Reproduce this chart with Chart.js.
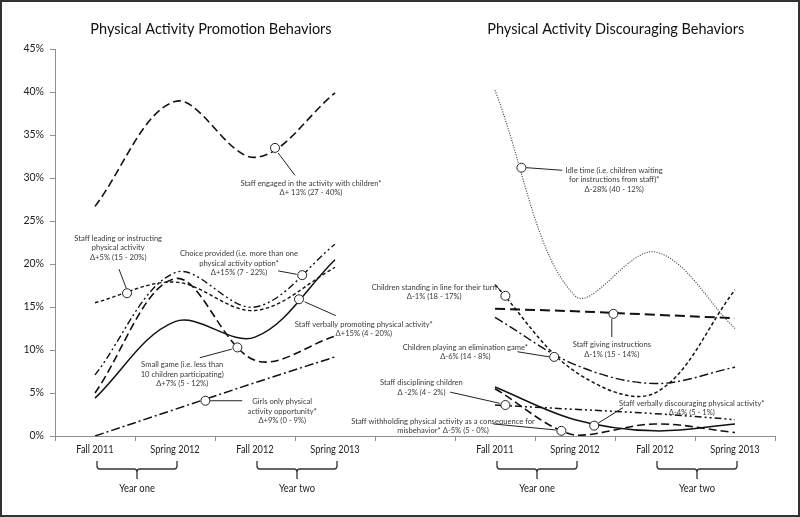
<!DOCTYPE html>
<html>
<head>
<meta charset="utf-8">
<title>Physical activity behaviors</title>
<script src="https://cdn.jsdelivr.net/npm/chart.js@4.4.1/dist/chart.umd.min.js"></script>
<style>
  html, body { margin: 0; padding: 0; background: #fff; }
  #wrap { width: 800px; height: 517px; }
</style>
</head>
<body>
<div id="wrap"><canvas id="chart" width="800" height="517"></canvas></div>
<script>
// Observation terms, repeated for both panels with one empty slot between them
const terms = ["Fall 2011", "Spring 2012", "Fall 2012", "Spring 2013"];
const categories = [...terms, "", ...terms];
const yTicks = [0, 5, 10, 15, 20, 25, 30, 35, 40, 45];
const panelTitles = ["Physical Activity Promotion Behaviors", "Physical Activity Discouraging Behaviors"];
const yearLabels = ["Year one", "Year two", "Year one", "Year two"];

// Promotion behaviors (% of observed time)
const staffEngaged = [26.7, 38.9, 32.4, 39.9];
const staffLeading = [15.5, 17.9, 14.6, 19.6];
const choiceProvided = [7.1, 19.0, 15.0, 22.3];
const smallGame = [5.0, 18.3, 8.8, 11.6];
const verballyPromoting = [4.4, 13.3, 11.5, 20.5];
const girlsOnly = [0, 3.1, 6.2, 9.2];

// Discouraging behaviors (% of observed time)
const idleTime = [40.2, 16.3, 21.4, 12.5];
const standingInLine = [17.6, 7.5, 5.0, 17.0];
const givingInstructions = [14.8, 14.5, 14.1, 13.7];
const eliminationGame = [13.8, 8.3, 6.1, 8.0];
const disciplining = [3.6, 3.1, 2.6, 1.9];
const verballyDiscouraging = [5.7, 1.9, 0.6, 1.4];
const withholding = [5.5, 0.1, 1.4, 0.4];

const FONT = "Lato";
const INK = "#3a3a3a";
const AXIS = "#8f8f8f";

const LONG = [8, 4];
const SHORT = [3.5, 2.5];
const DASH_DOT = [9, 3, 2, 3];
const DASH_DOT_DOT = [7, 3, 2, 3, 2, 3];
const DOTTED = [1, 1.5];

const series = [
  { values: staffEngaged, side: "left", dash: LONG, width: 1.6 },
  { values: staffLeading, side: "left", dash: SHORT, width: 1.4 },
  { values: choiceProvided, side: "left", dash: DASH_DOT_DOT, width: 1.4 },
  { values: smallGame, side: "left", dash: LONG, width: 1.6 },
  { values: verballyPromoting, side: "left", dash: [], width: 1.5 },
  { values: girlsOnly, side: "left", dash: DASH_DOT, width: 1.5 },
  { values: idleTime, side: "right", dash: DOTTED, width: 1.1, color: "#333" },
  { values: standingInLine, side: "right", dash: SHORT, width: 1.5 },
  { values: givingInstructions, side: "right", dash: [10, 5], width: 2 },
  { values: eliminationGame, side: "right", dash: DASH_DOT, width: 1.4 },
  { values: disciplining, side: "right", dash: DASH_DOT_DOT, width: 1.5 },
  { values: verballyDiscouraging, side: "right", dash: [], width: 1.5 },
  { values: withholding, side: "right", dash: LONG, width: 1.6 },
];

// Callouts: circle on the curve, leader line, text block (category index, percent)
const notes = [
  { circle: [2.25, 33.5], leader: [[2.29, 32.9], [2.5, 30.3]], at: [2.7, 29.4],
    lines: ["Staff engaged in the activity with children*", "Δ+ 13% (27 - 40%)"] },
  { circle: [0.4, 16.6], leader: [[0.3, 19.4], [0.39, 17.2]], at: [0.29, 23.0],
    lines: ["Staff leading or instructing", "physical activity", "Δ+5% (15 - 20%)"] },
  { circle: [2.59, 18.7], leader: [[2.29, 19.2], [2.52, 18.8]], at: [1.8, 21.2],
    lines: ["Choice provided (i.e. more than one", "physical activity option*", "Δ+15% (7 - 22%)"] },
  { circle: [2.55, 15.9], leader: [[2.62, 15.6], [3.01, 14.0]], at: [3.36, 13.0],
    lines: ["Staff verbally promoting physical activity*", "Δ+15% (4 - 20%)"] },
  { circle: [1.78, 10.3], leader: [[1.31, 9.1], [1.71, 10.1]], at: [1.09, 8.3],
    lines: ["Small game (i.e. less than", "10 children participating)", "Δ+7% (5 - 12%)"] },
  { circle: [1.38, 4.1], leader: [[1.44, 4.1], [1.84, 4.1]], at: [2.34, 4.0],
    lines: ["Girls only physical", "activity opportunity*", "Δ+9% (0 - 9%)"] },
  { circle: [5.33, 31.2], leader: [[5.39, 31.2], [5.84, 30.9]], at: [6.49, 30.9],
    lines: ["Idle time (i.e. children waiting", "for instructions from staff)*", "Δ-28% (40 - 12%)"] },
  { circle: [5.13, 16.3], leader: [[5.0, 17.6], [5.1, 16.6]], at: [4.24, 17.3],
    lines: ["Children standing in line for their turn", "Δ-1% (18 - 17%)"] },
  { circle: [6.48, 14.2], leader: [[6.46, 13.6], [6.46, 11.5]], at: [6.46, 10.6],
    lines: ["Staff giving instructions", "Δ-1% (15 - 14%)"] },
  { circle: [5.74, 9.2], leader: [[5.28, 9.8], [5.68, 9.2]], at: [4.63, 10.3],
    lines: ["Children playing an elimination game*", "Δ-6% (14 - 8%)"] },
  { circle: [5.13, 3.6], leader: [[4.44, 5.1], [5.06, 3.8]], at: [4.08, 6.2],
    lines: ["Staff disciplining children", "Δ -2% (4 - 2%)"] },
  { circle: [5.83, 0.6], leader: [[4.98, 1.4], [5.76, 0.7]], at: [4.35, 1.7],
    lines: ["Staff withholding physical activity as a consequence for", "misbehavior* Δ-5% (5 - 0%)"] },
  { circle: [6.24, 1.2], leader: [[6.29, 1.5], [6.6, 3.3]], at: [7.46, 3.8],
    lines: ["Staff verbally discouraging physical activity*", "Δ-4% (5 - 1%)"] },
];

const pad = [null, null, null, null, null];

function drawText(ctx, str, x, y, size, k = 1, align = "center", color = INK) {
  ctx.save();
  ctx.font = `${size}px ${FONT}`;
  ctx.fillStyle = color;
  ctx.textAlign = align;
  ctx.textBaseline = "middle";
  ctx.translate(x, y);
  ctx.scale(k, 1);
  ctx.fillText(str, 0, 0);
  ctx.restore();
}

function drawBracket(ctx, x1, x2, top) {
  const mid = top + 8;
  const xc = (x1 + x2) / 2;
  ctx.beginPath();
  ctx.moveTo(x1, top);
  ctx.lineTo(x1, mid - 3);
  ctx.quadraticCurveTo(x1, mid, x1 + 3, mid);
  ctx.lineTo(xc - 3, mid);
  ctx.quadraticCurveTo(xc, mid, xc, mid + 3);
  ctx.lineTo(xc, mid + 10);
  ctx.moveTo(xc, mid + 3);
  ctx.quadraticCurveTo(xc, mid, xc + 3, mid);
  ctx.lineTo(x2 - 3, mid);
  ctx.quadraticCurveTo(x2, mid, x2, mid - 3);
  ctx.lineTo(x2, top);
  ctx.stroke();
}

const overlay = {
  id: "overlay",
  afterDraw(chart) {
    const { ctx, chartArea } = chart;
    const x = chart.scales.x;
    const y = chart.scales.y;
    const px = (i) => x.getPixelForValue(i);
    const py = (v) => y.getPixelForValue(v);

    // frame round the figure
    ctx.save();
    ctx.strokeStyle = "#333";
    ctx.lineWidth = 2;
    ctx.strokeRect(1, 1, chart.width - 2, chart.height - 2);
    ctx.restore();

    // panel titles
    drawText(ctx, panelTitles[0], px(1.45), 29, 14.5, 1, "center", "#111");
    drawText(ctx, panelTitles[1], px(6.51), 29, 14.5, 1, "center", "#111");

    // y tick labels
    yTicks.forEach((v) => drawText(ctx, `${v}%`, chartArea.left - 11, py(v), 10.5, 1, "right", "#222"));

    // x tick labels
    categories.forEach((c, i) => {
      if (c) drawText(ctx, c, px(i), chartArea.bottom + 14, 10.5, 0.88, "center", "#222");
    });

    // year brackets
    ctx.save();
    ctx.strokeStyle = "#333";
    ctx.lineWidth = 1.3;
    [[0, 1], [2, 3], [5, 6], [7, 8]].forEach(([a, b], k) => {
      const x1 = px(a) + 2;
      const x2 = px(b) + 2;
      drawBracket(ctx, x1, x2, chartArea.bottom + 25);
      drawText(ctx, yearLabels[k], (x1 + x2) / 2, chartArea.bottom + 52, 11, 0.85, "center", "#222");
    });
    ctx.restore();

    // callouts
    ctx.save();
    ctx.strokeStyle = "#222";
    ctx.lineWidth = 1;
    notes.forEach((n) => {
      ctx.beginPath();
      ctx.moveTo(px(n.leader[0][0]), py(n.leader[0][1]));
      ctx.lineTo(px(n.leader[1][0]), py(n.leader[1][1]));
      ctx.stroke();

      ctx.beginPath();
      ctx.arc(px(n.circle[0]), py(n.circle[1]), 4.5, 0, Math.PI * 2);
      ctx.fillStyle = "#fff";
      ctx.fill();
      ctx.stroke();

      n.lines.forEach((line, j) => {
        drawText(ctx, line, px(n.at[0]), py(n.at[1]) + j * 9.6, 7.6, 1, "center", INK);
      });
    });
    ctx.restore();
  },
};

new Chart(document.getElementById("chart"), {
  type: "line",
  data: {
    labels: categories,
    datasets: series.map((s) => ({
      data: s.side === "left" ? [...s.values, ...pad] : [...pad, ...s.values],
      borderColor: s.color || "#111",
      borderWidth: s.width,
      borderDash: s.dash,
      pointRadius: 0,
      pointHoverRadius: 0,
      tension: 0.35,
      fill: false,
    })),
  },
  options: {
    responsive: false,
    animation: false,
    events: [],
    layout: { padding: { top: 49, right: 25, bottom: 0, left: 0 } },
    plugins: { legend: { display: false }, tooltip: { enabled: false } },
    scales: {
      x: {
        type: "category",
        offset: true,
        grid: { display: true, drawOnChartArea: false, drawTicks: true, tickLength: 5, color: AXIS, offset: true },
        border: { color: AXIS, width: 1 },
        ticks: { display: false },
        afterFit: (s) => { s.height = 81; },
      },
      y: {
        min: 0,
        max: 45,
        grid: { display: true, drawOnChartArea: false, drawTicks: true, tickLength: 5, color: AXIS },
        border: { color: AXIS, width: 1 },
        ticks: { display: false, stepSize: 5 },
        afterFit: (s) => { s.width = 55; },
      },
    },
  },
  plugins: [overlay],
});
</script>
</body>
</html>
